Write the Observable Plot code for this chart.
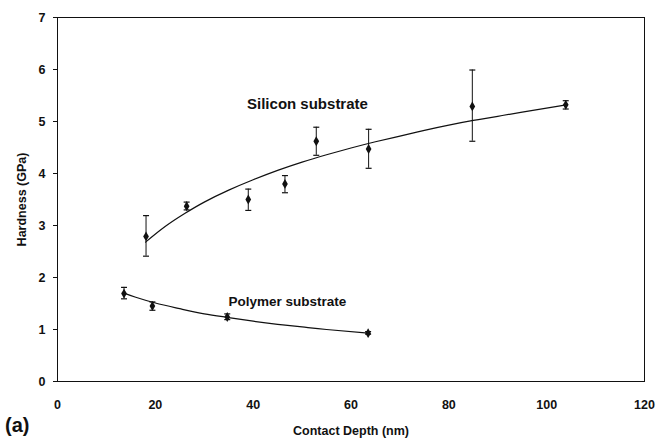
<!DOCTYPE html>
<html>
<head>
<meta charset="utf-8">
<script src="https://cdn.jsdelivr.net/npm/d3@7"></script>
<script src="https://cdn.jsdelivr.net/npm/@observablehq/plot@0.6"></script>
<style>
  html, body { margin: 0; padding: 0; background: #fff; }
  #wrap { position: relative; width: 668px; height: 439px; }
  #wrap svg { position: absolute; left: 0; top: 0; }
  #panel { position: absolute; left: 5px; top: 414px; z-index: 2; font: bold 20px "Liberation Sans", Arial, sans-serif; color: #111; }
</style>
</head>
<body>
<div id="wrap"><div id="panel">(a)</div></div>
<script>
// Silicon substrate measurements
const siliconDepth    = [18.1, 26.4, 39.0, 46.5, 52.9, 63.6, 84.8, 103.9];
const siliconHardness = [2.79, 3.37, 3.50, 3.80, 4.62, 4.47, 5.29, 5.32];
const siliconErrLow   = [2.41, 3.30, 3.29, 3.63, 4.35, 4.10, 4.62, 5.24];
const siliconErrHigh  = [3.19, 3.45, 3.70, 3.96, 4.89, 4.85, 5.99, 5.40];

// Polymer substrate measurements
const polymerDepth    = [13.6, 19.4, 34.7, 63.5];
const polymerHardness = [1.69, 1.45, 1.24, 0.93];
const polymerErrLow   = [1.59, 1.37, 1.19, 0.91];
const polymerErrHigh  = [1.81, 1.53, 1.30, 0.96];

// Trend curves
const siliconTrendDepth    = [18, 22, 26, 30, 35, 40, 45, 50, 55, 60, 65, 70, 75, 80, 85, 90, 95, 104];
const siliconTrendHardness = [2.68, 2.98, 3.23, 3.45, 3.68, 3.88, 4.06, 4.22, 4.36, 4.49, 4.61, 4.72, 4.83, 4.93, 5.02, 5.10, 5.18, 5.32];
const polymerTrendDepth    = [13.6, 16, 20, 25, 30, 35, 40, 45, 50, 55, 63.5];
const polymerTrendHardness = [1.70, 1.62, 1.51, 1.40, 1.30, 1.23, 1.16, 1.10, 1.05, 1.00, 0.93];

// Annotations
const labelText  = ["Silicon substrate", "Polymer substrate"];
const labelDepth = [51.1, 47.0];
const labelHard  = [5.33, 1.53];
const labelSize  = [15, 13.5];

// Axis ticks
const xTicks = [0, 20, 40, 60, 80, 100, 120];
const yTicks = [0, 1, 2, 3, 4, 5, 6, 7];

const toRows = (xs, ys, lo, hi) => xs.map((x, i) => ({x, y: ys[i], lo: lo ? lo[i] : null, hi: hi ? hi[i] : null}));
const silicon = toRows(siliconDepth, siliconHardness, siliconErrLow, siliconErrHigh);
const polymer = toRows(polymerDepth, polymerHardness, polymerErrLow, polymerErrHigh);
const points = silicon.concat(polymer);
const siTrend = toRows(siliconTrendDepth, siliconTrendHardness);
const poTrend = toRows(polymerTrendDepth, polymerTrendHardness);
const labels = labelText.map((t, i) => ({t, x: labelDepth[i], y: labelHard[i], s: labelSize[i]}));

const cap = { draw(ctx) { ctx.moveTo(-3, 0); ctx.lineTo(3, 0); } };

const chart = Plot.plot({
  width: 668,
  height: 439,
  marginLeft: 57,
  marginRight: 24,
  marginTop: 17,
  marginBottom: 58,
  style: { fontFamily: "'Liberation Sans', Arial, sans-serif", fontWeight: "bold", fontSize: "12.5px", color: "#111", background: "#fff" },
  x: { domain: [0, 120] },
  y: { domain: [0, 7] },
  marks: [
    Plot.axisX({ ticks: xTicks, tickSize: 0, tickPadding: 19, label: "Contact Depth (nm)", labelAnchor: "center", labelArrow: "none", labelOffset: 53, fontSize: 12.5 }),
    Plot.axisY({ ticks: yTicks, tickFormat: "d", tickSize: 4, tickPadding: 8, label: "Hardness (GPa)", labelAnchor: "center", labelArrow: "none", labelOffset: 40, fontSize: 12.5 }),
    Plot.frame({ stroke: "#111", strokeWidth: 1 }),
    Plot.line(siTrend, { x: "x", y: "y", stroke: "#111", strokeWidth: 1.2, curve: "natural" }),
    Plot.line(poTrend, { x: "x", y: "y", stroke: "#111", strokeWidth: 1.2, curve: "natural" }),
    Plot.ruleX(points, { x: "x", y1: "lo", y2: "hi", stroke: "#111", strokeWidth: 1 }),
    Plot.dot(points, { x: "x", y: "lo", symbol: cap, stroke: "#111", strokeWidth: 1.2, fill: "none" }),
    Plot.dot(points, { x: "x", y: "hi", symbol: cap, stroke: "#111", strokeWidth: 1.2, fill: "none" }),
    Plot.dot(points, { x: "x", y: "y", symbol: "diamond", r: 3, fill: "#111", stroke: "none" }),
    Plot.text(labels.slice(0, 1), { x: "x", y: "y", text: "t", fontSize: labelSize[0], fontWeight: "bold", fill: "#111" }),
    Plot.text(labels.slice(1), { x: "x", y: "y", text: "t", fontSize: labelSize[1], fontWeight: "bold", fill: "#111" })
  ]
});
document.getElementById("wrap").appendChild(chart);
</script>
</body>
</html>
